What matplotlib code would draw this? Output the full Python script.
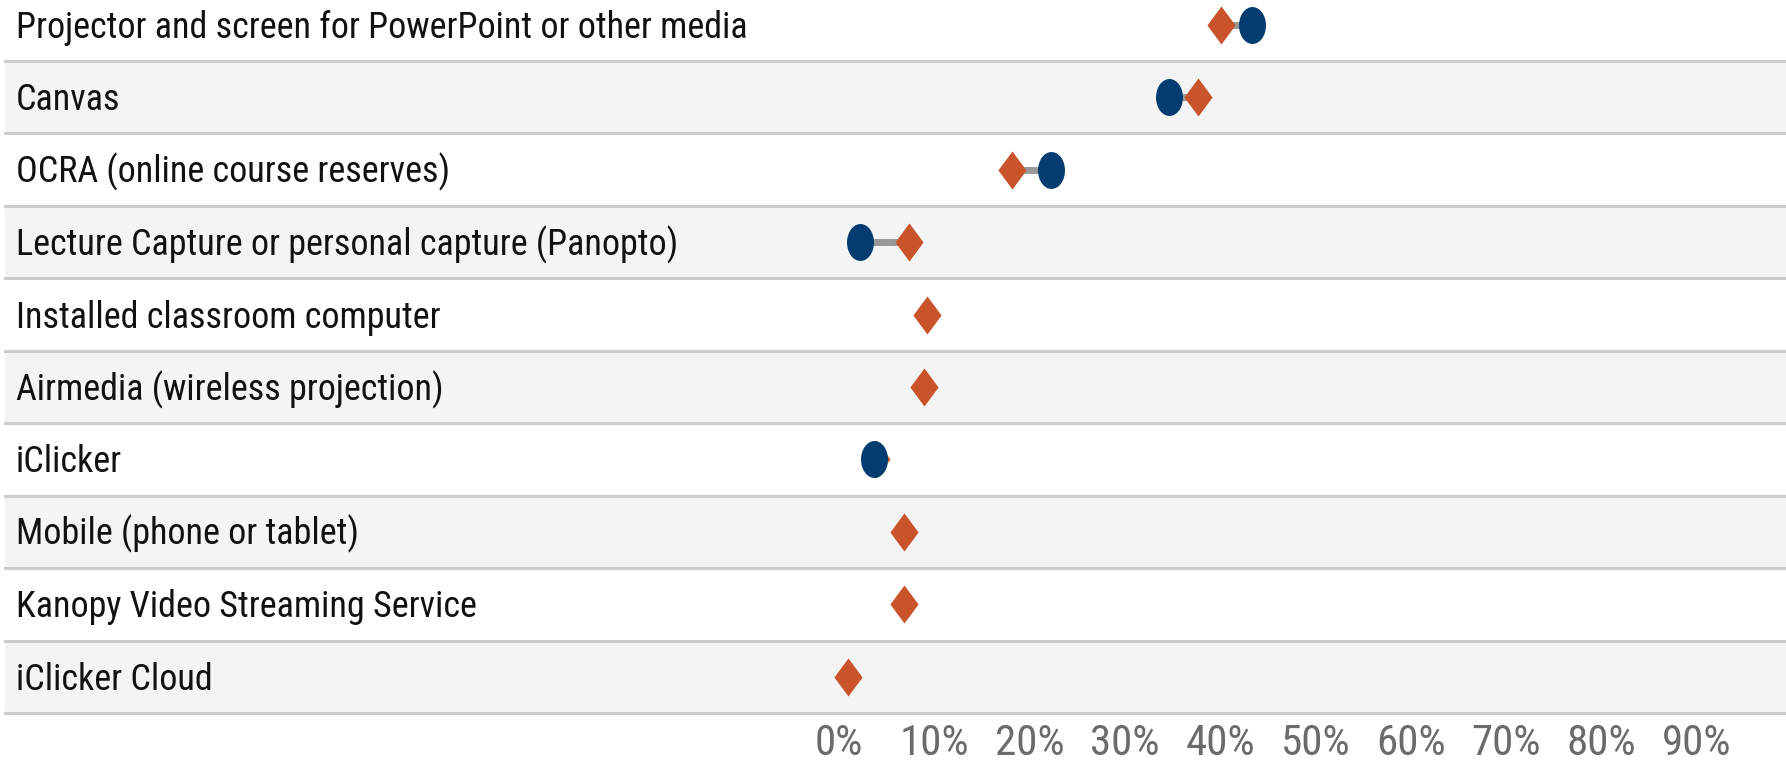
import numpy as np
import matplotlib
matplotlib.use("Agg")
import matplotlib.pyplot as plt
from matplotlib import font_manager as fm
from matplotlib.path import Path
from matplotlib.transforms import Affine2D, blended_transform_factory

# ---------------- data ----------------
categories = [
    "Projector and screen for PowerPoint or other media",
    "Canvas",
    "OCRA (online course reserves)",
    "Lecture Capture or personal capture (Panopto)",
    "Installed classroom computer",
    "Airmedia (wireless projection)",
    "iClicker",
    "Mobile (phone or tablet)",
    "Kanopy Video Streaming Service",
    "iClicker Cloud",
]
series_circle = [43.3, 34.6, 22.2, 2.2, np.nan, np.nan, 3.7, np.nan, np.nan, np.nan]
series_diamond = [40.1, 37.7, 18.2, 7.3, 9.2, 8.9, 3.9, 6.8, 6.8, 0.9]
tick_values = [0, 10, 20, 30, 40, 50, 60, 70, 80, 90]
tick_labels = [f"{t}%" for t in tick_values]

# ---------------- style ----------------
available = {f.name for f in fm.fontManager.ttflist}
preferred = ["Liberation Sans Narrow", "Nimbus Sans Narrow", "Arial Narrow",
             "Roboto Condensed", "PT Sans Narrow", "Archivo Narrow"]
chosen = [f for f in preferred if f in available][:1]
FONT = chosen + ["Liberation Sans", "DejaVu Sans"]
plt.rcParams["font.family"] = FONT
NAVY = "#023c70"
ORANGE = "#c9532b"
BAND = "#f4f4f4"
SEP = "#cccccc"

W, H = 1786, 765
fig = plt.figure(figsize=(W / 100, H / 100), dpi=100)
ax = fig.add_axes([0, 52 / H, 1, 713 / H])
px_per10 = 95.3
x0_px = 839
ax.set_xlim(-x0_px / px_per10 * 10, (W - x0_px) / px_per10 * 10)
n = len(categories)
ax.set_ylim(n - 0.5, -0.342)
for s in ax.spines.values():
    s.set_visible(False)
ax.set_yticks([])
ax.set_xticks(tick_values)
ax.set_xticklabels(tick_labels, fontsize=31, color="#6b6b6b")
ax.tick_params(axis="x", length=0, pad=7.5)

xstart = 5 / W
ypos = np.arange(n)
for i in ypos:
    if i % 2 == 1:
        ax.axhspan(i - 0.5, i + 0.5, xmin=xstart, xmax=1, color=BAND, lw=0, zorder=0)
    ax.axhline(i + 0.5, xmin=xstart, xmax=1, color=SEP, lw=2.2, zorder=1, clip_on=False)

trans = blended_transform_factory(ax.transAxes, ax.transData)
for i, lab in enumerate(categories):
    ax.text(16 / W, i + 0.18, lab, transform=trans, fontsize=26, color="#111111",
            ha="left", va="baseline")

# connectors
for i in ypos:
    a, b = series_circle[i], series_diamond[i]
    if not (np.isnan(a) or np.isnan(b)):
        ax.plot([a, b], [i, i], color="#999999", lw=5, zorder=2, solid_capstyle="butt")

ellipse = Path.unit_circle().transformed(Affine2D().scale(0.73, 1.0))
diamond = Path([(0, 1), (0.74, 0), (0, -1), (-0.74, 0), (0, 1)],
               [Path.MOVETO, Path.LINETO, Path.LINETO, Path.LINETO, Path.CLOSEPOLY])

ax.plot(series_diamond, ypos, linestyle="none", marker=diamond, markersize=27.4,
        color=ORANGE, markeredgewidth=0, zorder=3)
ax.plot(series_circle, ypos, linestyle="none", marker=ellipse, markersize=26.6,
        color=NAVY, markeredgewidth=0, zorder=4)

fig.savefig("out.png", dpi=100, facecolor="white")
